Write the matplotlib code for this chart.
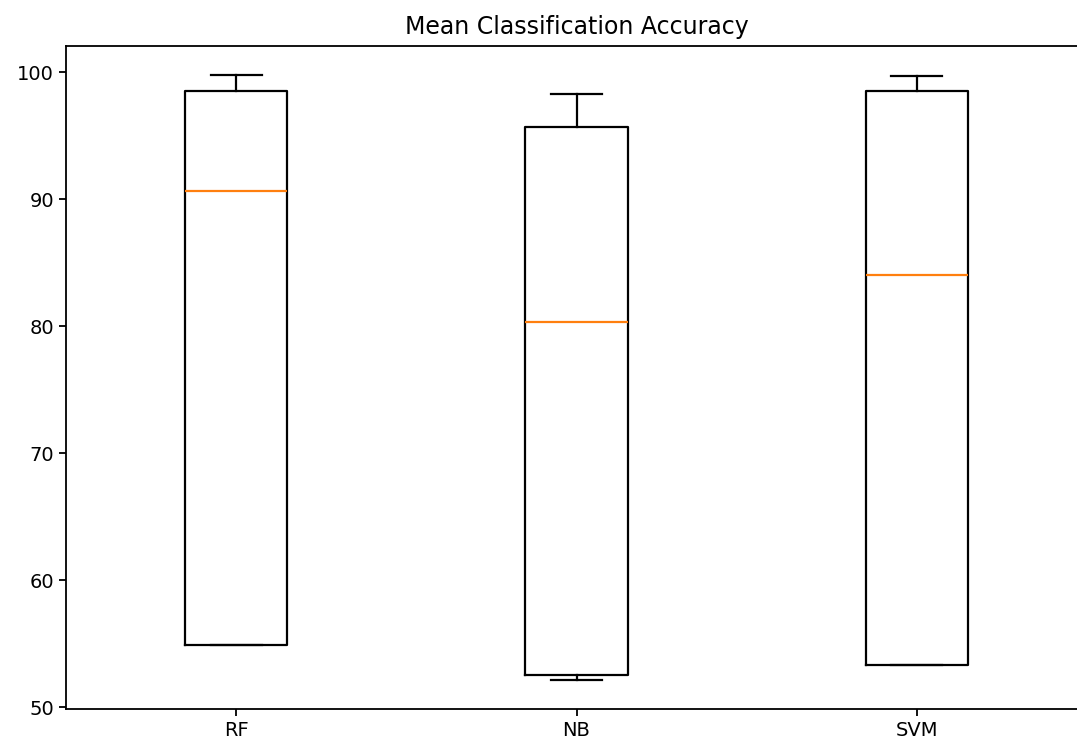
import matplotlib
matplotlib.use("Agg")
import matplotlib.pyplot as plt

# Classifier names and box statistics
models = ["RF", "NB", "SVM"]
whisker_low = [54.9, 52.1, 53.3]
q1 = [54.9, 52.5, 53.3]
median = [90.6, 80.3, 84.0]
q3 = [98.5, 95.7, 98.5]
whisker_high = [99.8, 98.3, 99.7]

stats = []
for i, name in enumerate(models):
    stats.append({
        "label": name,
        "whislo": whisker_low[i],
        "q1": q1[i],
        "med": median[i],
        "q3": q3[i],
        "whishi": whisker_high[i],
        "fliers": [],
    })

fig = plt.figure(figsize=(10.77, 7.42), dpi=100)
ax = fig.add_axes([0.0613, 0.0445, 0.948, 0.8935])

lw = 1.6
ax.bxp(stats, widths=0.3, showfliers=False,
       boxprops=dict(linewidth=lw, color="black"),
       whiskerprops=dict(linewidth=lw, color="black"),
       capprops=dict(linewidth=lw, color="black"),
       medianprops=dict(linewidth=lw, color="#ff7f0e"))

ax.set_xlim(0.5, 3.5)
ax.set_ylim(49.85, 102.05)
ax.set_yticks([50, 60, 70, 80, 90, 100])
ax.tick_params(labelsize=14, width=1.3, length=5)
for s in ax.spines.values():
    s.set_linewidth(1.3)
ax.set_title("Mean Classification Accuracy", fontsize=17, pad=9)

fig.savefig("out.png", dpi=100)
